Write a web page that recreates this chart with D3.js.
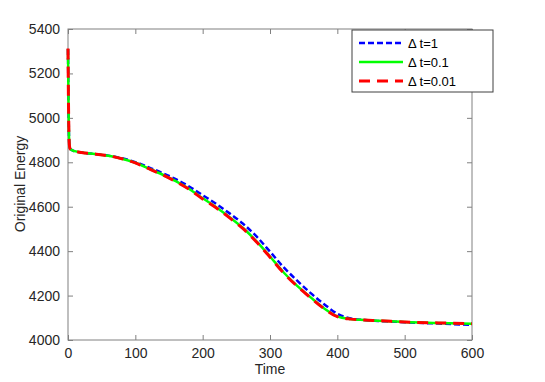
<!DOCTYPE html>
<html>
<head>
<meta charset="utf-8">
<script src="https://cdn.jsdelivr.net/npm/d3@7"></script>
<style>
  body { margin: 0; background: #fff; }
  text { font-family: "Liberation Sans", Arial, sans-serif; }
</style>
</head>
<body>
<script>
// sampled time points
let times = [0, 1, 2, 3, 5, 10, 20, 40, 60, 80, 100, 120, 140, 160, 180, 200, 220, 240, 260, 280, 300, 320, 340, 360, 380, 400, 420, 440, 460, 480, 500, 550, 600]
// energy for each time step
let dt1 = [5310, 5000, 4880, 4862, 4856, 4850, 4844, 4837, 4830, 4818, 4801, 4777, 4752, 4724, 4691, 4652, 4613, 4570, 4523, 4466, 4398, 4328, 4268, 4212, 4162, 4118, 4097, 4090, 4086, 4083, 4080, 4074, 4068]
let dt01 = [5310, 5000, 4880, 4862, 4856, 4850, 4844, 4837, 4829, 4816, 4798, 4772, 4745, 4715, 4680, 4638, 4598, 4553, 4504, 4444, 4376, 4305, 4245, 4193, 4143, 4106, 4094, 4090, 4087, 4084, 4081, 4077, 4073]
let dt001 = [5312, 5000, 4880, 4862, 4856, 4850, 4844, 4837, 4829, 4816, 4797, 4771, 4744, 4713, 4678, 4635, 4595, 4550, 4501, 4441, 4373, 4302, 4243, 4191, 4142, 4105, 4094, 4090, 4087, 4084, 4081, 4077, 4073]
let xTicks = [0, 100, 200, 300, 400, 500, 600]
let yTicks = [4000, 4200, 4400, 4600, 4800, 5000, 5200, 5400]
let legendLabels = ["Δ t=1", "Δ t=0.1", "Δ t=0.01"]

let W = 545, H = 382
let mLeft = 68, mRight = 472, mTop = 29, mBottom = 340

let svg = d3.select('body')
    .append('svg')
    .attr('width', W)
    .attr('height', H)
    .style('background', '#fff')

let x = d3.scaleLinear().domain([0, 600]).range([mLeft, mRight])
let y = d3.scaleLinear().domain([4000, 5400]).range([mBottom, mTop])

//axes box
svg.append('rect')
    .attr('x', mLeft).attr('y', mTop)
    .attr('width', mRight - mLeft).attr('height', mBottom - mTop)
    .style('fill', 'none')
    .style('stroke', '#808080')
    .style('stroke-width', 1)

//ticks, inward on all four sides
let axisColor = '#808080'
let fmt = d3.format('d')
let xb = svg.append('g').attr('transform', `translate(0,${mBottom})`)
    .call(d3.axisBottom(x).tickValues(xTicks).tickSize(-5).tickPadding(8).tickFormat(fmt))
let xt = svg.append('g').attr('transform', `translate(0,${mTop})`)
    .call(d3.axisTop(x).tickValues(xTicks).tickSize(-5).tickFormat(''))
let yl = svg.append('g').attr('transform', `translate(${mLeft},0)`)
    .call(d3.axisLeft(y).tickValues(yTicks).tickSize(-5).tickPadding(8).tickFormat(fmt))
let yr = svg.append('g').attr('transform', `translate(${mRight},0)`)
    .call(d3.axisRight(y).tickValues(yTicks).tickSize(-5).tickFormat(''))
for (let g of [xb, xt, yl, yr]) {
  g.select('.domain').remove()
  g.selectAll('line').style('stroke', axisColor)
  g.selectAll('text')
      .style('font-size', '14px')
      .style('fill', '#262626')
}

//curves
let line = d3.line()
    .x((d, i) => x(times[i]))
    .y(d => y(d))
    .curve(d3.curveMonotoneX)

let series = [
  {vals: dt1, color: '#0000ff', dash: '6,3', width: 2.5},
  {vals: dt01, color: '#00ff00', dash: null, width: 2.5},
  {vals: dt001, color: '#ff0000', dash: '11,7', width: 3}
]
series.forEach(s => {
  svg.append('path')
      .datum(s.vals)
      .attr('d', line)
      .style('fill', 'none')
      .style('stroke', s.color)
      .style('stroke-width', s.width)
      .style('stroke-dasharray', s.dash)
})

//legend
let leg = svg.append('g')
leg.append('rect')
    .attr('x', 352).attr('y', 30)
    .attr('width', 141).attr('height', 62)
    .style('fill', '#fff')
    .style('stroke', '#404040')
    .style('stroke-width', 1)
series.forEach((s, i) => {
  let ly = 43 + i * 19
  leg.append('line')
      .attr('x1', 359).attr('x2', 403)
      .attr('y1', ly).attr('y2', ly)
      .style('stroke', s.color)
      .style('stroke-width', s.width)
      .style('stroke-dasharray', s.dash)
  leg.append('text')
      .attr('x', 408).attr('y', ly + 5)
      .style('font-size', '13px')
      .style('fill', '#000')
      .text(legendLabels[i])
})

//axis labels
svg.append('text')
    .attr('x', (mLeft + mRight) / 2).attr('y', 374)
    .attr('text-anchor', 'middle')
    .style('font-size', '14px')
    .style('fill', '#262626')
    .text('Time')
svg.append('text')
    .attr('transform', 'translate(25,184) rotate(-90)')
    .attr('text-anchor', 'middle')
    .style('font-size', '14px')
    .style('fill', '#262626')
    .text('Original Energy')
</script>
</body>
</html>
